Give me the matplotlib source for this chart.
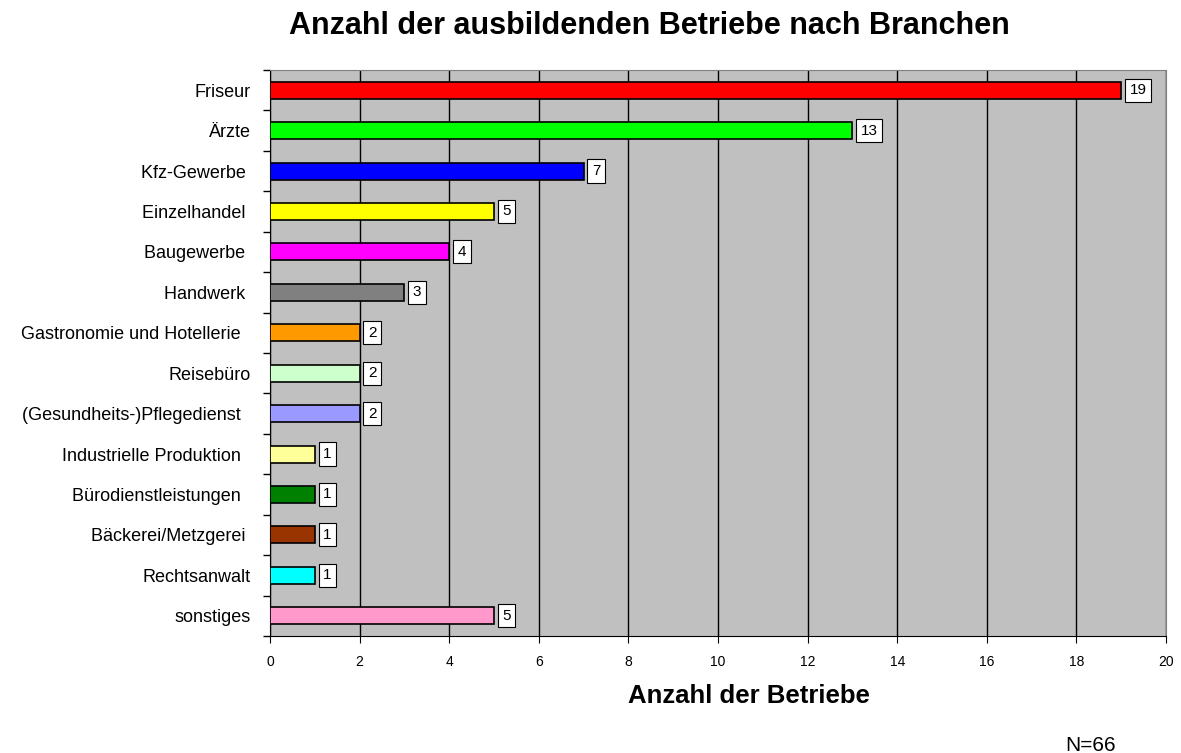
import matplotlib.pyplot as plt
import numpy as np

plt.rcParams['font.family'] = ['Liberation Sans', 'DejaVu Sans']

# labels carry the trailing blanks of the original sheet
branchen = ['Friseur', 'Ärzte', 'Kfz-Gewerbe ', 'Einzelhandel ', 'Baugewerbe ', 'Handwerk ',
            'Gastronomie und Hotellerie  ', 'Reisebüro', '(Gesundheits-)Pflegedienst  ',
            'Industrielle Produktion  ', 'Bürodienstleistungen  ', 'Bäckerei/Metzgerei ',
            'Rechtsanwalt', 'sonstiges']
anzahl = [19, 13, 7, 5, 4, 3, 2, 2, 2, 1, 1, 1, 1, 5]
farben = ['#FF0000', '#00FF00', '#0000FF', '#FFFF00', '#FF00FF', '#808080', '#FF9900',
          '#CCFFCC', '#9999FF', '#FFFF99', '#008000', '#993300', '#00FFFF', '#FF99CC']

fig = plt.figure(figsize=(11.81, 7.53), dpi=100)
ax = fig.add_axes([0.2286, 0.1554, 0.7587, 0.7517])
ax.set_facecolor('#C0C0C0')

y = np.arange(len(branchen))
ax.barh(y, anzahl, height=0.42, color=farben, edgecolor='black', linewidth=1.2, zorder=3)

for yi, v in zip(y, anzahl):
    ax.annotate(str(v), (v, yi), xytext=(6, 0), textcoords='offset points',
                va='center', ha='left', fontsize=11, zorder=4,
                bbox=dict(boxstyle='square,pad=0.3', facecolor='white', edgecolor='black', linewidth=0.8))

ax.set_xlim(0, 20)
ax.set_ylim(len(branchen) - 0.5, -0.5)
ax.set_xticks(np.arange(0, 21, 2))
ax.set_yticks(y)
ax.set_yticklabels(branchen, fontsize=13)
ax.set_yticks(np.arange(-0.5, len(branchen), 1), minor=True)
ax.tick_params(axis='y', which='major', length=0, pad=14)
ax.tick_params(axis='y', which='minor', length=5, width=1)
ax.tick_params(axis='x', length=5, labelsize=10, pad=8.5)

ax.grid(axis='x', color='black', linewidth=1, zorder=1)
ax.set_axisbelow(True)
for s in ['top', 'right']:
    ax.spines[s].set_color('#808080')
for s in ['left', 'bottom']:
    ax.spines[s].set_color('black')

fig.text(0.634, 0.0664, 'Anzahl der Betriebe', ha='center', va='baseline',
         fontsize=18.5, fontweight='bold')
fig.text(0.5495, 0.955, 'Anzahl der ausbildenden Betriebe nach Branchen', ha='center', va='baseline',
         fontsize=22, fontweight='bold')
fig.text(0.923, 0.003, 'N=66', ha='center', va='baseline', fontsize=15)

fig.savefig('out.png', dpi=100)
